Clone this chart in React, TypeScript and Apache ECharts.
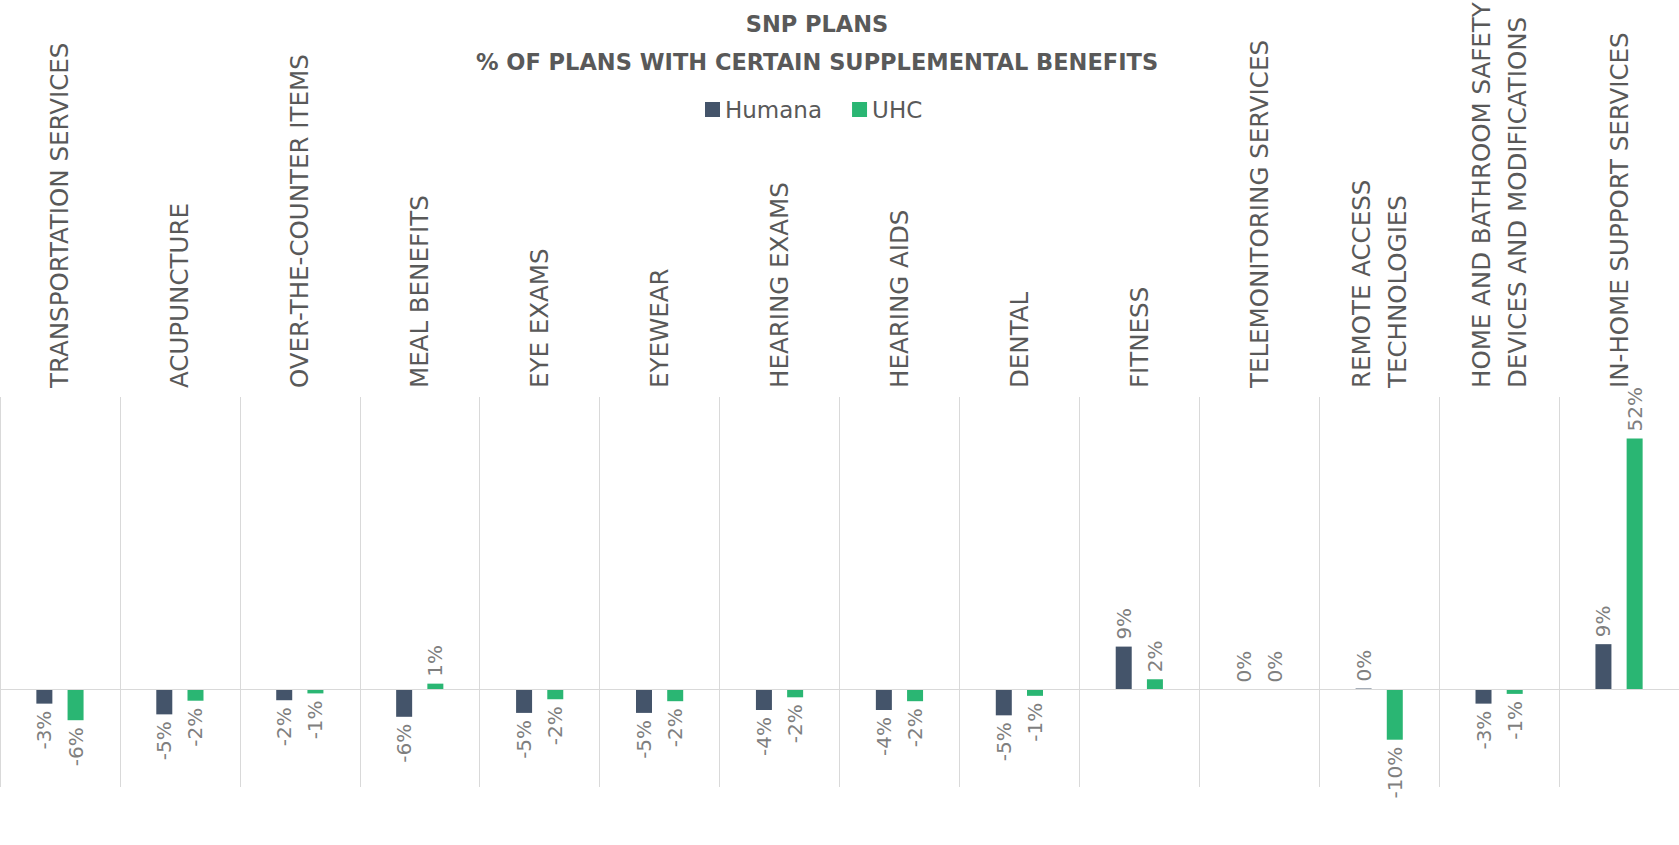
import React, { useEffect, useRef } from "react";
import * as echarts from "echarts";

const categories = [
  "TRANSPORTATION SERVICES",
  "ACUPUNCTURE",
  "OVER-THE-COUNTER ITEMS",
  "MEAL BENEFITS",
  "EYE EXAMS",
  "EYEWEAR",
  "HEARING EXAMS",
  "HEARING AIDS",
  "DENTAL",
  "FITNESS",
  "TELEMONITORING SERVICES",
  "REMOTE ACCESS\nTECHNOLOGIES",
  "HOME AND BATHROOM SAFETY\nDEVICES AND MODIFICATIONS",
  "IN-HOME SUPPORT SERVICES",
];

const humana = [-2.9, -5.1, -2.2, -5.6, -4.8, -4.8, -4.2, -4.2, -5.3, 8.8, 0, 0.2, -2.9, 9.3];
const uhc = [-6.3, -2.3, -0.8, 1.2, -2.0, -2.4, -1.6, -2.4, -1.3, 2.1, 0, -10.3, -0.9, 51.5];

const seriesNames = ["Humana", "UHC"];
const seriesColors = ["#44546A", "#2AB673"];

const FONT = "'DejaVu Sans', sans-serif";

function makeData(values: number[]) {
  return values.map((v) => ({
    value: v,
    label: {
      position: v < 0 ? "bottom" : "top",
      align: v < 0 ? "right" : "left",
      verticalAlign: "middle",
    },
  }));
}

export default function App() {
  const ref = useRef<HTMLDivElement>(null);
  useEffect(() => {
    if (!ref.current) return;
    const chart = echarts.init(ref.current, undefined, { renderer: "svg" });
    const labelCfg = {
      show: true,
      rotate: 90,
      distance: 7,
      fontSize: 20,
      color: "#7F7F7F",
      fontFamily: FONT,
      formatter: (p: any) => `${Math.round(p.value)}%`,
    };
    chart.setOption({
      animation: false,
      backgroundColor: "#ffffff",
      title: {
        text: "SNP PLANS\n% OF PLANS WITH CERTAIN SUPPLEMENTAL BENEFITS",
        left: 812,
        top: 0,
        textAlign: "center",
        textStyle: {
          fontSize: 22.5,
          fontWeight: "bold",
          color: "#595959",
          lineHeight: 38,
          fontFamily: FONT,
          align: "center",
        },
      },
      legend: {
        data: seriesNames,
        left: 700,
        top: 93,
        icon: "rect",
        itemWidth: 15,
        itemHeight: 15,
        itemGap: 30,
        textStyle: { fontSize: 23, color: "#595959", fontFamily: FONT },
      },
      grid: {
        left: 0,
        right: 0,
        top: 397,
        bottom: 58,
        containLabel: false,
        outerBoundsMode: "none",
      },
      xAxis: {
        type: "category",
        position: "top",
        data: categories,
        axisLine: { show: false },
        axisTick: { show: false },
        splitLine: { show: true, lineStyle: { color: "#D9D9D9", width: 1 } },
        axisLabel: {
          rotate: 90,
          interval: 0,
          margin: 9,
          fontSize: 24.5,
          lineHeight: 36,
          color: "#595959",
          fontFamily: FONT,
        },
      },
      yAxis: {
        type: "value",
        min: -20,
        max: 60,
        interval: 20,
        axisLine: { show: false },
        axisTick: { show: false },
        axisLabel: { show: false },
        splitLine: { show: false },
      },
      series: [
        {
          name: seriesNames[0],
          type: "bar",
          data: makeData(humana),
          barWidth: 16,
          barGap: "95%",
          itemStyle: { color: seriesColors[0] },
          label: labelCfg,
          markLine: {
            silent: true,
            symbol: "none",
            label: { show: false },
            lineStyle: { color: "#D9D9D9", type: "solid", width: 1 },
            data: [{ yAxis: 0 }],
          },
        },
        {
          name: seriesNames[1],
          type: "bar",
          data: makeData(uhc),
          barWidth: 16,
          barGap: "95%",
          itemStyle: { color: seriesColors[1] },
          label: labelCfg,
        },
      ],
    });
    return () => chart.dispose();
  }, []);
  return (
    <div
      ref={ref}
      style={{ position: "fixed", left: 0, top: 0, width: 1679, height: 845 }}
    />
  );
}
